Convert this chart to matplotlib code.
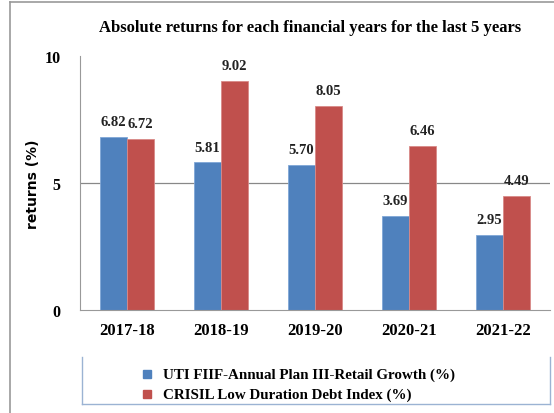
import numpy as np
import matplotlib
matplotlib.use("Agg")
import matplotlib.pyplot as plt
from matplotlib.lines import Line2D
from matplotlib.patches import Rectangle

years = ["2017-18", "2018-19", "2019-20", "2020-21", "2021-22"]
fund = [6.82, 5.81, 5.70, 3.69, 2.95]
bench = [6.72, 9.02, 8.05, 6.46, 4.49]
fund_name = "UTI FIIF-Annual Plan III-Retail Growth (%)"
bench_name = "CRISIL Low Duration Debt Index (%)"

blue = "#4F81BD"
red = "#C0504D"
serif = "Liberation Serif"

W, H = 554, 414
fig = plt.figure(figsize=(W / 100, H / 100), dpi=100)

# axes box in pixel terms
left, right, top, bottom = 80, 550, 57, 311
ax = fig.add_axes([left / W, 1 - bottom / H, (right - left) / W, (bottom - top) / H])

x = np.arange(len(years))
w = 27 / 94.
b1 = ax.bar(x - w / 2, fund, width=w, color=blue, edgecolor="#7fa6d6", linewidth=0.6, zorder=2)
b2 = ax.bar(x + w / 2, bench, width=w, color=red, edgecolor="#d98a88", linewidth=0.6, zorder=2)

for rect, v in zip(list(b1) + list(b2), fund + bench):
    ax.text(rect.get_x() + rect.get_width() / 2, v + 0.35, "%.2f" % v,
            ha="center", va="bottom", fontsize=10.5, fontweight="bold", family=serif, color="#222222")

ax.set_xlim(-0.5, len(years) - 0.5)
ax.set_ylim(0, 10)
ax.set_yticks([0, 5, 10])
ax.set_yticklabels(["0", "5", "10"], family=serif, fontweight="bold", fontsize=11.5)
ax.set_xticks(x)
ax.set_xticklabels(years, family=serif, fontweight="bold", fontsize=12)
ax.tick_params(axis="x", length=0, pad=9)
ax.tick_params(axis="y", length=0, pad=14)
ax.axhline(5, color="#888888", linewidth=0.9, zorder=1)
for s in ["top", "right"]:
    ax.spines[s].set_visible(False)
ax.spines["left"].set_color("#999999")
ax.spines["bottom"].set_color("#999999")
ax.set_ylabel("returns (%)", family="DejaVu Sans", fontweight="bold", fontsize=10, labelpad=3)

fig.text(310 / W, 1 - 28 / H, "Absolute returns for each financial years for the last 5 years",
         ha="center", va="center", family=serif, fontweight="bold", fontsize=12)

# outer frame (left and top)
fig.add_artist(Line2D([10 / W, 10 / W], [0, 1 - 3 / H], color="#999999", linewidth=1.2))
fig.add_artist(Line2D([10 / W, 1], [1 - 3 / H, 1 - 3 / H], color="#999999", linewidth=1.2))

# legend box (left, right, bottom edges)
lx0, lx1, ly0, ly1 = 82, 550, 358, 405
fy = lambda p: 1 - p / H
for xs, ys in [([lx0, lx0], [ly0, ly1]), ([lx1, lx1], [ly0, ly1]), ([lx0, lx1], [ly1, ly1])]:
    fig.add_artist(Line2D([v / W for v in xs], [fy(v) for v in ys], color="#9bb3d3", linewidth=1.0))

for yy, col, name in [(375, blue, fund_name), (395, red, bench_name)]:
    fig.add_artist(Rectangle((143 / W, fy(yy + 4)), 8 / W, 8 / H, color=col, transform=fig.transFigure))
    fig.text(163 / W, fy(yy), name, ha="left", va="center", family=serif, fontweight="bold", fontsize=10.8)

fig.savefig("out.png", dpi=100)
